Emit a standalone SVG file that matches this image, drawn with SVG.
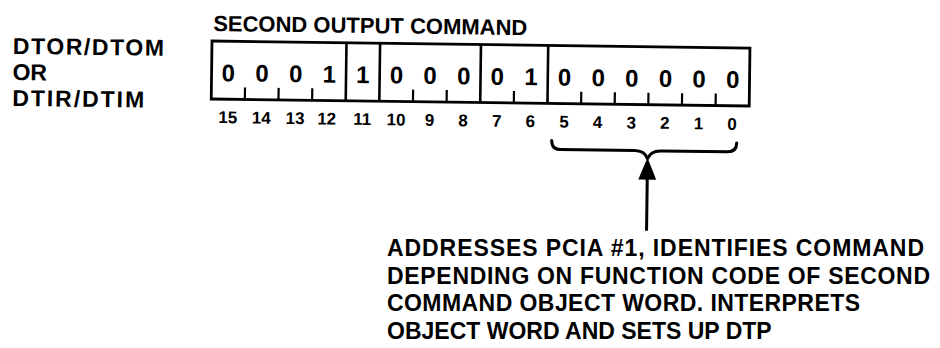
<svg xmlns="http://www.w3.org/2000/svg" width="940" height="348" viewBox="0 0 940 348">
  <style>
    text { font-family: "Liberation Sans", Arial, Helvetica, sans-serif; font-weight: bold; fill: #000; }
    .label { font-size: 23px; }
    .title { font-size: 22px; }
    .bit { font-size: 24px; text-anchor: middle; }
    .num { font-size: 17px; text-anchor: middle; }
    .desc { font-size: 23px; }
    .frame { fill: none; stroke: #000; stroke-width: 2.8; }
    .divider { stroke: #000; stroke-width: 2.6; }
    .tick { stroke: #000; stroke-width: 2.2; }
    .brace { fill: none; stroke: #000; stroke-width: 3; stroke-linecap: round; stroke-linejoin: round; }
    .lead { stroke: #000; stroke-width: 3; fill: none; }
  </style>
  <defs>
    <marker id="arrowhead" viewBox="0 0 22 18" refX="2" refY="9" markerWidth="22" markerHeight="18" markerUnits="userSpaceOnUse" orient="auto">
      <path d="M0,0 L22,9 L0,18 Z" fill="#000"/>
    </marker>
  </defs>
  <rect width="940" height="348" fill="#fff"/>

  <!-- register drawing sits with a slight clockwise skew -->
  <g transform="rotate(0.75 212 41)">

    <g id="mode-label">
      <text class="label" x="13" y="56.5" textLength="151" lengthAdjust="spacing">DTOR/DTOM</text>
      <text class="label" x="13" y="82.5">OR</text>
      <text class="label" x="13" y="108.5" textLength="132" lengthAdjust="spacing">DTIR/DTIM</text>
    </g>

    <g id="word-title">
      <text class="title" x="213" y="31">SECOND OUTPUT COMMAND</text>
    </g>

    <!-- 16-bit command word, cell width 33.625 -->
    <g id="command-word">
      <rect class="frame" x="212" y="41" width="538" height="58"/>
      <!-- field boundaries -->
      <line class="divider" x1="346.5" y1="41" x2="346.5" y2="99"/>
      <line class="divider" x1="380.1" y1="41" x2="380.1" y2="99"/>
      <line class="divider" x1="481" y1="41" x2="481" y2="99"/>
      <line class="divider" x1="548.25" y1="41" x2="548.25" y2="99"/>
      <!-- bit ticks -->
      <line class="tick" x1="245.6" y1="87" x2="245.6" y2="99"/>
      <line class="tick" x1="279.25" y1="87" x2="279.25" y2="99"/>
      <line class="tick" x1="312.9" y1="87" x2="312.9" y2="99"/>
      <line class="tick" x1="413.75" y1="87" x2="413.75" y2="99"/>
      <line class="tick" x1="447.4" y1="87" x2="447.4" y2="99"/>
      <line class="tick" x1="514.6" y1="87" x2="514.6" y2="99"/>
      <line class="tick" x1="581.9" y1="87" x2="581.9" y2="99"/>
      <line class="tick" x1="615.5" y1="87" x2="615.5" y2="99"/>
      <line class="tick" x1="649.1" y1="87" x2="649.1" y2="99"/>
      <line class="tick" x1="682.75" y1="87" x2="682.75" y2="99"/>
      <line class="tick" x1="716.4" y1="87" x2="716.4" y2="99"/>
    </g>

    <g id="bit-values">
      <text class="bit" x="228.8" y="81">0</text>
      <text class="bit" x="262.4" y="81">0</text>
      <text class="bit" x="296.1" y="81">0</text>
      <text class="bit" x="329.7" y="81">1</text>
      <text class="bit" x="363.3" y="81">1</text>
      <text class="bit" x="397.0" y="81">0</text>
      <text class="bit" x="430.6" y="81">0</text>
      <text class="bit" x="464.2" y="81">0</text>
      <text class="bit" x="497.8" y="81">0</text>
      <text class="bit" x="531.4" y="81">1</text>
      <text class="bit" x="565.1" y="81">0</text>
      <text class="bit" x="598.7" y="81">0</text>
      <text class="bit" x="632.3" y="81">0</text>
      <text class="bit" x="665.9" y="81">0</text>
      <text class="bit" x="699.6" y="81">0</text>
      <text class="bit" x="733.2" y="81">0</text>
    </g>

    <g id="bit-numbers">
      <text class="num" x="228.8" y="123">15</text>
      <text class="num" x="262.4" y="123">14</text>
      <text class="num" x="296.1" y="123">13</text>
      <text class="num" x="327.7" y="123">12</text>
      <text class="num" x="363.3" y="123">11</text>
      <text class="num" x="397.0" y="123">10</text>
      <text class="num" x="430.6" y="123">9</text>
      <text class="num" x="464.2" y="123">8</text>
      <text class="num" x="497.8" y="123">7</text>
      <text class="num" x="531.4" y="123">6</text>
      <text class="num" x="565.1" y="123">5</text>
      <text class="num" x="598.7" y="123">4</text>
      <text class="num" x="632.3" y="123">3</text>
      <text class="num" x="665.9" y="123">2</text>
      <text class="num" x="699.6" y="123">1</text>
      <text class="num" x="733.2" y="123">0</text>
    </g>

    <!-- brace under bits 5..0 -->
    <g id="field-brace">
      <path class="brace" d="M553,136 Q553,145 562,145 L636,145 Q646,145 649,153 Q652,145 662,145 L729,145 Q738,145 738,136"/>
    </g>

    <g id="connectors">
      <line class="lead" x1="649" y1="225" x2="649" y2="172" marker-end="url(#arrowhead)"/>
    </g>
  </g>

  <!-- explanatory note for bits 5..0 -->
  <g id="field-note">
    <text class="desc" x="387" y="256" textLength="537" lengthAdjust="spacing">ADDRESSES PCIA #1, IDENTIFIES COMMAND</text>
    <text class="desc" x="387" y="283.7" textLength="543" lengthAdjust="spacing">DEPENDING ON FUNCTION CODE OF SECOND</text>
    <text class="desc" x="387" y="311.3" textLength="473" lengthAdjust="spacing">COMMAND OBJECT WORD. INTERPRETS</text>
    <text class="desc" x="387" y="338.5">OBJECT WORD AND SETS UP DTP</text>
  </g>
</svg>
